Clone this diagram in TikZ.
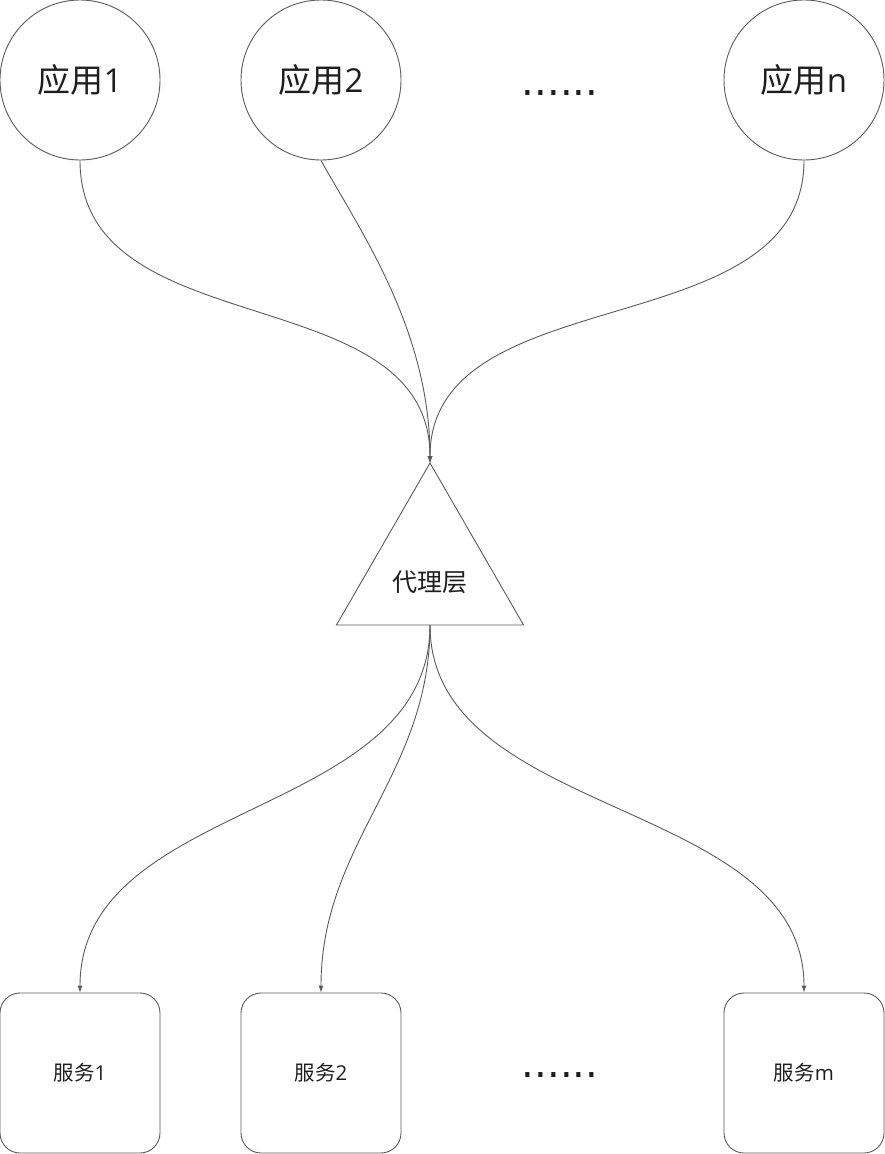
\documentclass[tikz,border=0pt]{standalone}
\usepackage{xcolor}
\usepackage{fontspec}
\usepackage{tikz}
\usetikzlibrary{shapes.geometric,arrows.meta}

\setmainfont{Open Sans}
\newfontfamily\cjk{Noto Sans CJK SC}
\newfontfamily\dotfont{DejaVu Sans}

\definecolor{linegray}{HTML}{5A5A5A}
\definecolor{textdark}{HTML}{1E1E1E}

\tikzset{
  app/.style={circle, draw=linegray, line width=0.9pt, minimum size=160pt, inner sep=0pt,
    text=textdark, font=\fontsize{33}{38}\selectfont},
  service/.style={rectangle, rounded corners=20pt, draw=linegray, line width=0.9pt,
    minimum size=160pt, inner sep=0pt, text=textdark, font=\fontsize{20.5}{24}\selectfont},
  proxybox/.style={regular polygon, regular polygon sides=3, draw=linegray, line width=0.9pt,
    minimum size=216pt, inner sep=0pt, outer sep=0pt},
  ellip/.style={text=textdark, font=\dotfont\fontsize{40}{44}\selectfont, anchor=base, inner sep=0pt},
  link/.style={draw=linegray, line width=0.9pt, -{Latex[length=7pt,width=5pt]}}
}

\begin{document}
\begin{tikzpicture}[x=1pt,y=-1pt]
\useasboundingbox (0,0) rectangle (885,1154);

			% top row
			\foreach \x/\n/\t in {80/app1/1, 321/app2/2, 804/appn/n} {
				\node[app] (\n) at (\x,80) {{\cjk 应用}\t};
			}
			\node[ellip] (appdots) at (560,95) {......};

			% middle
			\node[proxybox, label={[name=proxytext, yshift=-11pt, text=textdark,
				font=\cjk\fontsize{25}{30}\selectfont]center:代理层}] (proxy) at (430,571) {};

			% bottom row
			\foreach \x/\n/\t in {80/svc1/1, 321/svc2/2, 804/svcm/m} {
				\node[service] (\n) at (\x,1073) {{\cjk 服务}\t};
			}
			\node[ellip] (svcdots) at (560,1077) {......};

			\foreach \n/\dx/\dy/\k in {app1/0/187/187, app2/39/70/133, appn/0/187/187} {
				\draw[link] (\n.south) .. controls +(\dx,\dy) and +(0,-\k) .. (proxy.corner 1);
			}

			\foreach \n/\k in {svc1/195, svc2/150, svcm/195} {
				\draw[link] (proxy.side 2) .. controls +(0,\k) and +(0,-\k) .. (\n.north);
			}
\end{tikzpicture}
\end{document}
